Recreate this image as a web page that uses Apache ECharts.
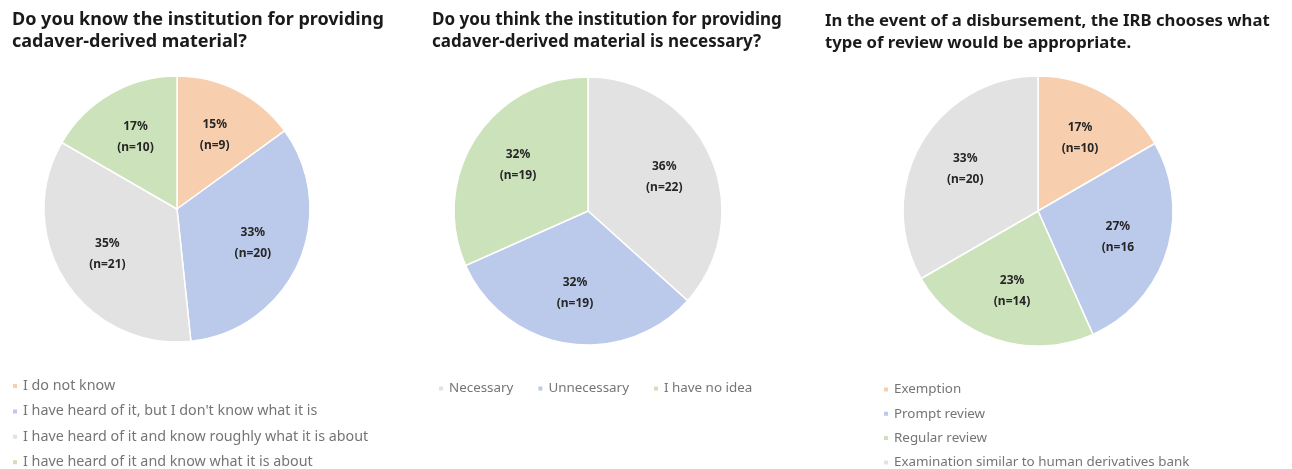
<!DOCTYPE html>
<html>
<head>
<meta charset="utf-8">
<script src="https://cdn.jsdelivr.net/npm/echarts@6/dist/echarts.min.js"></script>
<style>
html,body{margin:0;padding:0;background:#fff;}
#chart{width:1292px;height:469px;}
</style>
</head>
<body>
<div id="chart"></div>
<script>
// ---- data ----
var titles = [
  "Do you know the institution for providing\ncadaver-derived material?",
  "Do you think the institution for providing\ncadaver-derived material is necessary?",
  "In the event of a disbursement, the IRB chooses what\ntype of review would be appropriate."
];
var cats1 = ["I do not know", "I have heard of it, but I don't know what it is", "I have heard of it and know roughly what it is about", "I have heard of it and know what it is about"];
var vals1 = [9, 20, 21, 10];
var pcts1 = ["15%", "33%", "35%", "17%"];
var nLabels1 = ["(n=9)", "(n=20)", "(n=21)", "(n=10)"];

var cats2 = ["Necessary", "Unnecessary", "I have no idea"];
var vals2 = [22, 19, 19];
var pcts2 = ["36%", "32%", "32%"];
var nLabels2 = ["(n=22)", "(n=19)", "(n=19)"];

var cats3 = ["Exemption", "Prompt review", "Regular review", "Examination similar to human derivatives bank"];
var vals3 = [10, 16, 14, 20];
var pcts3 = ["17%", "27%", "23%", "33%"];
var nLabels3 = ["(n=10)", "(n=16", "(n=14)", "(n=20)"];

// ---- styling ----
var C = { orange: "#F7CEAE", blue: "#BBCAEA", gray: "#E2E2E2", green: "#CCE2BA" };
var colors1 = [C.orange, C.blue, C.gray, C.green];
var colors2 = [C.gray, C.blue, C.green];
var colors3 = [C.orange, C.blue, C.green, C.gray];

function mkData(cats, vals, cols, pcts, ns) {
  return cats.map(function (c, i) {
    return { name: c, value: vals[i], itemStyle: { color: cols[i] }, pct: pcts[i], nl: ns[i] };
  });
}
function pieSeries(data, center, r) {
  return {
    type: "pie", center: center, radius: r, startAngle: 90, clockwise: true,
    data: data, label: { show: false }, labelLine: { show: false },
    itemStyle: { borderColor: "#fff", borderWidth: 1.5 },
    emphasis: { disabled: true }, silent: true, animation: false
  };
}
function labelSeries(data, center, r) {
  return {
    type: "pie", center: center, radius: r, startAngle: 90, clockwise: true,
    silent: true, animation: false,
    data: data.map(function (d) { return { name: d.name, value: d.value, itemStyle: { color: "rgba(0,0,0,0)" }, pct: d.pct, nl: d.nl }; }),
    itemStyle: { borderWidth: 0 },
    emphasis: { disabled: true },
    label: {
      show: true, position: "inside",
      formatter: function (p) { return p.data.pct + "\n" + p.data.nl; },
      color: "#262626", fontFamily: "Noto Sans", fontWeight: "bold", fontSize: 12, lineHeight: 21
    },
    labelLine: { show: false }
  };
}
function legendData(cats, cols) {
  return cats.map(function (c, i) { return { name: c, itemStyle: { color: cols[i] } }; });
}
function titleStyle(fs) {
  return { fontFamily: "Noto Sans", fontWeight: "bold", color: "#1a1a1a", fontSize: fs, lineHeight: 22 };
}
function legend(orient, left, top, gap, fs, cats, cols) {
  return {
    orient: orient, left: left, top: top, width: 420, height: 120, padding: 0,
    icon: "rect", itemWidth: 6, itemHeight: 6, itemGap: gap,
    textStyle: { fontFamily: "Noto Sans", fontSize: fs, color: "#757575" },
    data: legendData(cats, cols), selectedMode: false
  };
}

var d1 = mkData(cats1, vals1, colors1, pcts1, nLabels1);
var d2 = mkData(cats2, vals2, colors2, pcts2, nLabels2);
var d3 = mkData(cats3, vals3, colors3, pcts3, nLabels3);

var option = {
  backgroundColor: "#fff",
  title: [
    { text: titles[0], left: 7, top: 4, textStyle: titleStyle(18) },
    { text: titles[1], left: 427, top: 4, textStyle: titleStyle(17) },
    { text: titles[2], left: 820, top: 5, textStyle: titleStyle(16.7) }
  ],
  legend: [
    legend("vertical", 11, 379, 11.4, 14.3, cats1, colors1),
    legend("horizontal", 437, 382, 23, 13.4, cats2, colors2),
    legend("vertical", 882, 383, 11.3, 13.4, cats3, colors3)
  ],
  series: [
    pieSeries(d1, [177, 209], 133),
    pieSeries(d2, [588, 211], 134),
    pieSeries(d3, [1038, 211], 135),
    labelSeries(d1, [177, 209], 160),
    labelSeries(d2, [588, 211], 161),
    labelSeries(d3, [1038, 211], 162)
  ]
};
var chart = echarts.init(document.getElementById("chart"));
chart.setOption(option);
</script>
</body>
</html>
